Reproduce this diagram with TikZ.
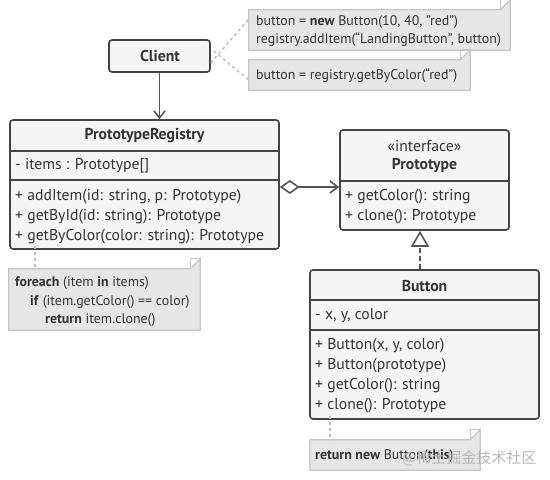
\documentclass[tikz,border=0pt]{standalone}
\usepackage{fontspec}
\setmainfont{PT Sans}
\newfontfamily\cjk{Noto Sans CJK SC}
\usetikzlibrary{arrows.meta}
\definecolor{bordc}{HTML}{444444}
\definecolor{boxfill}{HTML}{F5F5F5}
\definecolor{txtc}{HTML}{333333}
\definecolor{notefill}{HTML}{E6E6E6}
\definecolor{notebord}{HTML}{C6C6C6}
\definecolor{linkc}{HTML}{555555}
\definecolor{dashc}{HTML}{BBBBBB}
\begin{document}
\begin{tikzpicture}[x=1pt,y=-1pt,
  box/.style={draw=bordc, line width=1.6pt, fill=boxfill, rounded corners=3pt, inner sep=0pt},
  sep/.style={draw=bordc, line width=1.6pt},
  txt/.style={anchor=west, inner sep=0pt, text=txtc, font=\fontsize{15.7}{18}\selectfont},
  ttl/.style={anchor=center, inner sep=0pt, text=txtc, font=\fontsize{15.7}{18}\selectfont\bfseries},
  ntxt/.style={anchor=west, inner sep=0pt, text=txtc, font=\fontsize{13.9}{16}\selectfont},
  notebody/.style={inner sep=0pt, minimum width=#1},
  noteshape/.style={fill=notefill, draw=notebord, line width=1.3pt},
  dashlink/.style={draw=dashc, line width=1.4pt, dash pattern=on 3pt off 3pt},
  link/.style={draw=linkc, line width=1.6pt}
]
\useasboundingbox (0,0) rectangle (550,480);

% notes
\newcommand{\notedraw}[1]{%
  \path[noteshape] (#1.south west) -- (#1.north west) -- ([xshift=-10pt]#1.north east) -- ([yshift=10pt]#1.north east) -- (#1.south east) -- cycle;
  \draw[notebord, line width=1.1pt] ([xshift=-10pt]#1.north east) -- ([xshift=-10pt,yshift=10pt]#1.north east) -- ([yshift=10pt]#1.north east);}

\node[notebody=261pt, minimum height=40pt] (n1) at (379.5,30) {};
\notedraw{n1}
\node[ntxt] (n1a) at (256,22) {button = \textbf{new} Button(10, 40, "red")};
\node[ntxt] (n1b) at (256,40) {registry.addItem(“LandingButton”, button)};

\node[notebody=221pt, minimum height=30pt] (n2) at (359.5,75) {};
\notedraw{n2}
\node[ntxt] (n2a) at (256,76) {button = registry.getByColor(“red”)};

\node[notebody=191pt, minimum height=61pt] (n3) at (104.5,299.5) {};
\notedraw{n3}
\node[ntxt] (n3a) at (15,283) {\textbf{foreach} (item \textbf{in} items)};
\node[ntxt] (n3b) at (30,302) {\textbf{if} (item.getColor() == color)};
\node[ntxt] (n3c) at (45,320) {\textbf{return} item.clone()};

\node[notebody=170pt, minimum height=30pt] (n4) at (395,455) {};
\notedraw{n4}
\node[ntxt] (n4a) at (315,456) {\textbf{return new} Button(\textbf{this})};

% Client
\node[box, minimum width=101pt, minimum height=32pt] (client) at (159.5,56) {};
\node[ttl] (clientt) at (160,56) {Client};

% PrototypeRegistry
\node[box, minimum width=269pt, minimum height=129pt] (reg) at (144.5,184.5) {};
\draw[sep] (reg.west |- 0,151) -- (reg.east |- 0,151);
\draw[sep] (reg.west |- 0,180) -- (reg.east |- 0,180);
\node[ttl] (regt) at (144.5,136) {PrototypeRegistry};
\node[txt] (rega) at (15,166) {- items : Prototype[]};
\node[txt] (regm1) at (15,197) {+ addItem(id: string, p: Prototype)};
\node[txt] (regm2) at (15,217) {+ getById(id: string): Prototype};
\node[txt] (regm3) at (15,237) {+ getByColor(color: string): Prototype};

% Prototype
\node[box, minimum width=169pt, minimum height=100pt] (proto) at (424.5,180) {};
\draw[sep] (proto.west |- 0,181) -- (proto.east |- 0,181);
\node[anchor=center, inner sep=0pt, text=txtc, font=\fontsize{15.7}{18}\selectfont] (protos) at (424.5,146) {«interface»};
\node[ttl] (protot) at (424.5,166) {Prototype};
\node[txt] (protom1) at (345,197) {+ getColor(): string};
\node[txt] (protom2) at (345,217) {+ clone(): Prototype};

% Button
\node[box, minimum width=229pt, minimum height=149pt] (btn) at (424.5,344.5) {};
\draw[sep] (btn.west |- 0,300) -- (btn.east |- 0,300);
\draw[sep] (btn.west |- 0,330) -- (btn.east |- 0,330);
\node[ttl] (btnt) at (424.5,286) {Button};
\node[txt] (btna) at (315,316) {- x, y, color};
\node[txt] (btnm1) at (315,346) {+ Button(x, y, color)};
\node[txt] (btnm2) at (315,366) {+ Button(prototype)};
\node[txt] (btnm3) at (315,386) {+ getColor(): string};
\node[txt] (btnm4) at (315,406) {+ clone(): Prototype};

% connectors
\draw[link, -{Straight Barb[length=7pt,width=11pt,line width=1.6pt]}] (client.south) -- (reg.north -| client.south);
\draw[link, {Diamond[open,length=20pt,width=14pt,line width=1.6pt,fill=white]}-{Straight Barb[length=8pt,width=12pt,line width=1.6pt]}]
  (reg.east |- 0,187) -- (proto.west |- 0,187);
\draw[link, dash pattern=on 5pt off 3pt, -{Triangle[open,length=16pt,width=18pt,line width=1.6pt,fill=white]}]
  (btn.north -| 420,0) -- (proto.south -| 420,0);

\draw[dashlink] ([yshift=-7pt]client.east) -- ([yshift=11pt]n1.west);
\draw[dashlink] ([xshift=3pt,yshift=5pt]client.east) -- ([yshift=-5pt]n2.west);
\draw[dashlink] ([yshift=4pt]reg.south -| 35,0) -- (n3.north -| 35,0);
\draw[dashlink] ([yshift=4pt]btn.south -| 330,0) -- (n4.north -| 330,0);

% watermark
\node[anchor=west, inner sep=0pt, text=black!28, font=\cjk\fontsize{15}{17}\selectfont] (wm) at (402,458) {@稀土掘金技术社区};
\end{tikzpicture}
\end{document}
